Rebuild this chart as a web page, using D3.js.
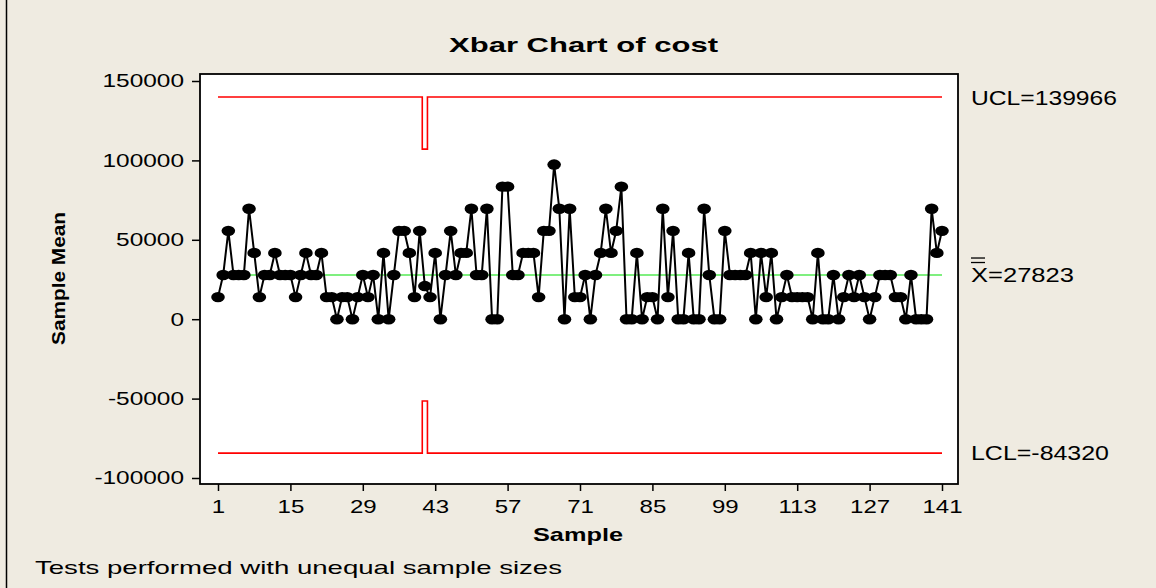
<!DOCTYPE html>
<html>
<head>
<meta charset="utf-8">
<script src="https://cdn.jsdelivr.net/npm/d3@7"></script>
<style>
  body { margin: 0; background: #efebe1; }
  svg { display: block; }
  text { font-family: "Liberation Sans", Arial, sans-serif; fill: #000; }
</style>
</head>
<body>
<svg id="chart" width="1156" height="588"></svg>
<script>
// sample means (sample 1..141)
const sampleMeans = [
  13912, 27823, 55646, 27823, 27823, 27823, 69558, 41735, 13912, 27823,
  27823, 41735, 27823, 27823, 27823, 13912, 27823, 41735, 27823, 27823,
  41735, 13912, 13912, 0, 13912, 13912, 0, 13912, 27823, 13912,
  27823, 0, 41735, 0, 27823, 55646, 55646, 41735, 13912, 55646,
  20868, 13912, 41735, 0, 27823, 55646, 27823, 41735, 41735, 69558,
  27823, 27823, 69558, 0, 0, 83469, 83469, 27823, 27823, 41735,
  41735, 41735, 13912, 55646, 55646, 97381, 69558, 0, 69558, 13912,
  13912, 27823, 0, 27823, 41735, 69558, 41735, 55646, 83469, 0,
  0, 41735, 0, 13912, 13912, 0, 69558, 13912, 55646, 0,
  0, 41735, 0, 0, 69558, 27823, 0, 0, 55646, 27823,
  27823, 27823, 27823, 41735, 0, 41735, 13912, 41735, 0, 13912,
  27823, 13912, 13912, 13912, 13912, 0, 41735, 0, 0, 27823,
  0, 13912, 27823, 13912, 27823, 13912, 0, 13912, 27823, 27823,
  27823, 13912, 13912, 0, 27823, 0, 0, 0, 69558, 41735, 55646
];
const samples = sampleMeans.map((d, i) => i + 1);

// control limits (sample 41 has the larger subgroup, so narrower limits)
const centerLine = 27823;
const ucl = 139966, lcl = -84320;
const largeSample = 41;
const uclLarge = 107121, lclLarge = -51475;

const xTicks = [1, 15, 29, 43, 57, 71, 85, 99, 113, 127, 141];
const yTicks = [-100000, -50000, 0, 50000, 100000, 150000];

const frame = {left: 200, right: 958, top: 74, bottom: 484};

const svg = d3.select('#chart');

const x = d3.scaleLinear().domain([1, 141]).range([218, 942]);
const y = d3.scaleLinear().domain([-100000, 150000]).range([478, 81]);

// stretch text horizontally like the original (it was drawn wide)
function stretch(sel, factor) {
  sel.each(function() {
    const w = this.getComputedTextLength();
    d3.select(this).attr('textLength', w * factor).attr('lengthAdjust', 'spacingAndGlyphs');
  });
}
function fitTo(sel, width) {
  sel.attr('textLength', width).attr('lengthAdjust', 'spacingAndGlyphs');
}

// outer left border
svg.append('line')
  .attr('x1', 6.5).attr('x2', 6.5).attr('y1', 0).attr('y2', 588)
  .attr('stroke', '#000').attr('stroke-width', 1.5);

// plot frame
svg.append('rect')
  .attr('x', frame.left).attr('y', frame.top)
  .attr('width', frame.right - frame.left).attr('height', frame.bottom - frame.top)
  .attr('fill', '#fff').attr('stroke', '#000').attr('stroke-width', 1.8);

// axes
const yAxis = svg.append('g')
  .attr('transform', `translate(${frame.left},0)`)
  .call(d3.axisLeft(y).tickValues(yTicks).tickSize(8).tickPadding(8).tickFormat(d => String(d)));
const xAxis = svg.append('g')
  .attr('transform', `translate(0,${frame.bottom})`)
  .call(d3.axisBottom(x).tickValues(xTicks).tickSize(7).tickPadding(9).tickFormat(d => String(d)));

[yAxis, xAxis].forEach(ax => {
  ax.select('.domain').remove();
  ax.selectAll('.tick line').attr('stroke', '#000').attr('stroke-width', 1.5);
  ax.selectAll('.tick text')
    .attr('font-family', '"Liberation Sans", Arial, sans-serif')
    .attr('font-size', 18.5).attr('fill', '#000');
});
stretch(yAxis.selectAll('.tick text'), 1.32);
stretch(xAxis.selectAll('.tick text'), 1.3);

// control limit step lines
const limitSteps = (normal, large) => {
  const pts = [];
  samples.forEach(s => {
    const v = s === largeSample ? large : normal;
    pts.push([Math.max(1, s - 0.5), v], [Math.min(141, s + 0.5), v]);
  });
  return pts;
};
const stepLine = d3.line().x(d => x(d[0])).y(d => y(d[1]));

svg.append('path')
  .attr('d', stepLine(limitSteps(ucl, uclLarge)))
  .attr('fill', 'none').attr('stroke', '#ff0000').attr('stroke-width', 1.6);
svg.append('path')
  .attr('d', stepLine(limitSteps(lcl, lclLarge)))
  .attr('fill', 'none').attr('stroke', '#ff0000').attr('stroke-width', 1.6);

// center line
svg.append('line')
  .attr('x1', x(1)).attr('x2', x(141))
  .attr('y1', y(centerLine)).attr('y2', y(centerLine))
  .attr('stroke', '#00e000').attr('stroke-width', 1.2);

// data line + markers
svg.append('path')
  .datum(sampleMeans)
  .attr('d', d3.line().x((d, i) => x(samples[i])).y(d => y(d)))
  .attr('fill', 'none').attr('stroke', '#000').attr('stroke-width', 2);

svg.append('g').selectAll('ellipse')
  .data(sampleMeans)
  .join('ellipse')
  .attr('cx', (d, i) => x(samples[i]))
  .attr('cy', d => y(d))
  .attr('rx', 6.8).attr('ry', 5.2)
  .attr('fill', '#000');

// right-hand limit labels
const labelX = 971;
fitTo(svg.append('text').attr('x', labelX).attr('y', y(ucl) + 8)
  .attr('font-size', 19.5).text('UCL=139966'), 146);
fitTo(svg.append('text').attr('x', labelX).attr('y', y(lcl) + 7)
  .attr('font-size', 19.5).text('LCL=-84320'), 138);
fitTo(svg.append('text').attr('x', labelX).attr('y', y(centerLine) + 7)
  .attr('font-size', 19.5).text('X=27823'), 103);
[0, 4.5].forEach(dy => {
  svg.append('line')
    .attr('x1', labelX).attr('x2', labelX + 14)
    .attr('y1', y(centerLine) - 17 + dy).attr('y2', y(centerLine) - 17 + dy)
    .attr('stroke', '#000').attr('stroke-width', 1.3);
});

// titles
fitTo(svg.append('text').attr('x', 583.5).attr('y', 52)
  .attr('text-anchor', 'middle').attr('font-size', 21).attr('font-weight', 'bold')
  .text('Xbar Chart of cost'), 269);
fitTo(svg.append('text').attr('x', 578).attr('y', 541)
  .attr('text-anchor', 'middle').attr('font-size', 19).attr('font-weight', 'bold')
  .text('Sample'), 90);
fitTo(svg.append('text').attr('transform', 'translate(65,278.5) rotate(-90)')
  .attr('text-anchor', 'middle').attr('font-size', 18).attr('font-weight', 'bold')
  .text('Sample Mean'), 133);
fitTo(svg.append('text').attr('x', 35).attr('y', 574)
  .attr('font-size', 18.5)
  .text('Tests performed with unequal sample sizes'), 527);
</script>
</body>
</html>
